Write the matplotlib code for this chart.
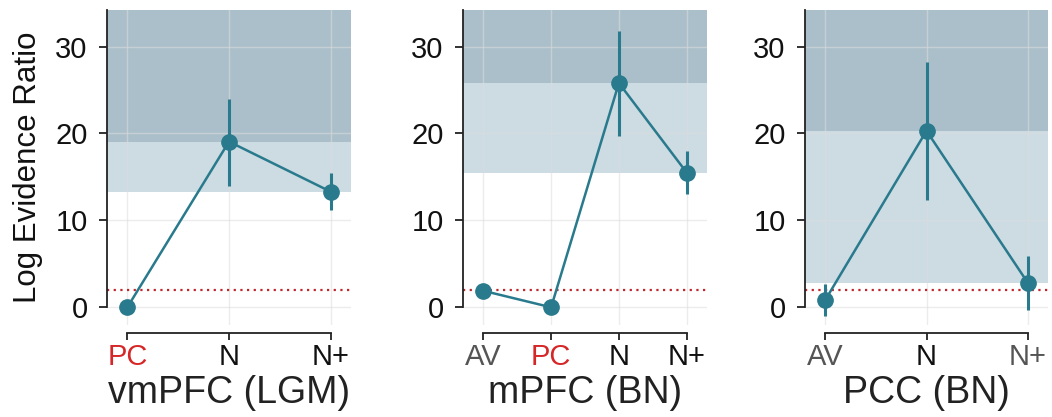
import numpy as np
import matplotlib
matplotlib.use("Agg")
import matplotlib.pyplot as plt

plt.rcParams['font.family'] = ['Liberation Sans', 'DejaVu Sans']

# data
titles = ["vmPFC (LGM)", "mPFC (BN)", "PCC (BN)"]
labels = [["PC", "N", "N+"], ["AV", "PC", "N", "N+"], ["AV", "N", "N+"]]
label_colors = [["#d62728", "#111111", "#111111"],
                ["#555555", "#d62728", "#111111", "#111111"],
                ["#555555", "#111111", "#555555"]]
values = [[0.0, 19.06, 13.3], [1.9, 0.0, 25.8, 15.5], [0.84, 20.3, 2.83]]
err_lo = [[0.0, 14.0, 11.2], [1.9, 0.0, 19.75, 13.0], [-0.97, 12.3, -0.3]]
err_hi = [[0.0, 23.97, 15.4], [1.9, 0.0, 31.8, 18.0], [2.65, 28.2, 5.9]]
threshold = 2.0

line_col = "#287a8c"
dark_shade = "#abbfca"
light_shade = "#cddbe3"

W, H = 1052, 417
fig = plt.figure(figsize=(W / 100, H / 100), dpi=100)

lefts = [107, 463, 805]
widths = [244, 244, 243]
top_px, bot_px = 10, 324.7
ymin, ymax = -2, 34.2

for i in range(3):
    ax = fig.add_axes([lefts[i] / W, (H - bot_px) / H, widths[i] / W, (bot_px - top_px) / H])
    x = np.arange(len(values[i]))
    v = np.array(values[i])
    lo = v - np.array(err_lo[i])
    hi = np.array(err_hi[i]) - v
    # shaded bands: above best model, and between best and second best
    srt = np.sort(v)
    ax.axhspan(srt[-1], ymax, color=dark_shade, zorder=0, lw=0)
    ax.axhspan(srt[-2], srt[-1], color=light_shade, zorder=0, lw=0)
    ax.axhline(threshold, color="#c0262d", ls=(0, (1, 2)), lw=1.6, zorder=2)
    ax.errorbar(x, v, yerr=[lo, hi], color=line_col, ecolor=line_col,
                elinewidth=2.2, lw=1.8, marker='o', ms=11, capsize=0, zorder=3)
    pad = 0.3 if len(x) == 4 else 0.2
    ax.set_xlim(-pad, len(x) - 1 + pad)
    ax.set_ylim(ymin, ymax)
    ax.set_yticks([0, 10, 20, 30])
    ax.set_xticks(x)
    ax.set_xticklabels(labels[i])
    ax.grid(True, color="#dddddd", lw=1.0, alpha=0.55)
    ax.set_axisbelow(True)
    ax.tick_params(axis='y', labelsize=21, length=6, width=1.3, color='#222222', labelcolor='#111111', pad=8)
    ax.tick_params(axis='x', labelsize=21, length=5, width=1.3, color='#222222', pad=2)
    for s in ['top', 'right']:
        ax.spines[s].set_visible(False)
    ax.spines['left'].set_color('#222222')
    ax.spines['left'].set_linewidth(1.3)
    ax.spines['left'].set_bounds(0, ymax)
    ax.spines['bottom'].set_color('#222222')
    ax.spines['bottom'].set_linewidth(1.3)
    ax.spines['bottom'].set_position(('outward', 6))
    ax.spines['bottom'].set_bounds(x[0], x[-1])
    ax.set_xlabel(titles[i], fontsize=27, color='#222222', labelpad=3)
    if i == 0:
        ax.set_ylabel("Log Evidence Ratio", fontsize=22.5, color='#111111', labelpad=9)
    for t, c in zip(ax.get_xticklabels(), label_colors[i]):
        t.set_color(c)

fig.savefig("out.png", dpi=100)
